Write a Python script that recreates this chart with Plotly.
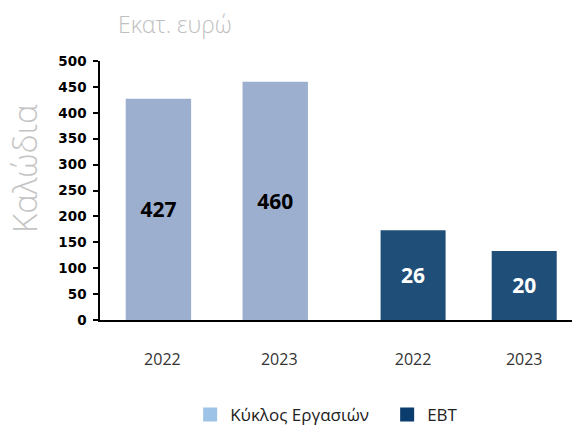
import plotly.graph_objects as go

years = ["2022", "2023"]
turnover = [427, 460]
ebt = [26, 20]
turnover_labels = ["427", "460"]
ebt_labels = ["26", "20"]
y_ticks = [0, 50, 100, 150, 200, 250, 300, 350, 400, 450, 500]

fig = go.Figure()

fig.add_trace(go.Bar(
    x=years, y=turnover, text=turnover_labels, textposition="inside",
    insidetextanchor="middle", textangle=0,
    textfont=dict(family="Open Sans", size=21, color="#000000", weight="bold"),
    marker=dict(color="#9DAFCE", line=dict(width=0)), width=0.56,
    showlegend=False, xaxis="x", yaxis="y", hoverinfo="skip"))

fig.add_trace(go.Bar(
    x=years, y=ebt, text=ebt_labels, textposition="inside",
    insidetextanchor="middle", textangle=0,
    textfont=dict(family="Open Sans", size=21, color="#FFFFFF", weight="bold"),
    marker=dict(color="#1F4E79", line=dict(width=0)), width=0.585,
    showlegend=False, xaxis="x2", yaxis="y2", hoverinfo="skip"))

# legend entries
fig.add_trace(go.Scatter(x=[None], y=[None], name="Κύκλος Εργασιών", mode="markers",
                         marker=dict(color="#9DC3E6", symbol="square", size=14),
                         showlegend=True))
fig.add_trace(go.Scatter(x=[None], y=[None], name="EBT", mode="markers",
                         marker=dict(color="#0B3C6E", symbol="square", size=14),
                         showlegend=True))

fig.update_layout(
    width=572, height=425,
    margin=dict(l=100, r=0, t=61, b=105, autoexpand=False),
    plot_bgcolor="white", paper_bgcolor="white",
    barmode="overlay",
    xaxis=dict(domain=[0, 0.495], type="category", range=[-0.5, 1.5],
               showline=True, linecolor="black", linewidth=1.5,
               ticks="", showgrid=False, ticklabelstandoff=24, ticklabelshift=4,
               tickfont=dict(family="Open Sans", size=16, color="#333333")),
    xaxis2=dict(domain=[0.495, 1], type="category", range=[-0.715, 1.43],
                anchor="y", showline=True, linecolor="black", linewidth=1.5,
                ticks="", showgrid=False, ticklabelstandoff=24,
                tickfont=dict(family="Open Sans", size=16, color="#333333")),
    yaxis=dict(range=[0, 500], tickvals=y_ticks, showgrid=False,
               showline=True, linecolor="black", linewidth=1.5,
               ticks="outside", ticklen=5, tickwidth=1.5, tickcolor="black",
               ticklabelstandoff=4, zeroline=False,
               tickfont=dict(family="DejaVu Sans", size=13.5, color="#000000", weight="bold")),
    yaxis2=dict(range=[0, 75], overlaying="y", anchor="x2", visible=False),
    legend=dict(orientation="h", x=0.191, xanchor="left", y=-0.367, yanchor="middle",
                font=dict(family="Open Sans", size=17, color="#222222"),
                itemsizing="trace", traceorder="normal",
                entrywidth=152, entrywidthmode="pixels"),
    annotations=[
        dict(text="Εκατ. ευρώ", xref="paper", yref="paper", x=0.158, y=1.143,
             xanchor="center", yanchor="middle", showarrow=False,
             font=dict(family="Open Sans", size=23, color="#BFBFBF", weight=300)),
        dict(text="Καλώδια", xref="paper", yref="paper", x=-0.159, y=0.587,
             xanchor="center", yanchor="middle", showarrow=False, textangle=-90,
             font=dict(family="Open Sans", size=33, color="#C4C4C4", weight=300)),
    ],
)

fig.write_html("out.html", config={"displayModeBar": False},
               post_script="document.body.style.margin='0';")
